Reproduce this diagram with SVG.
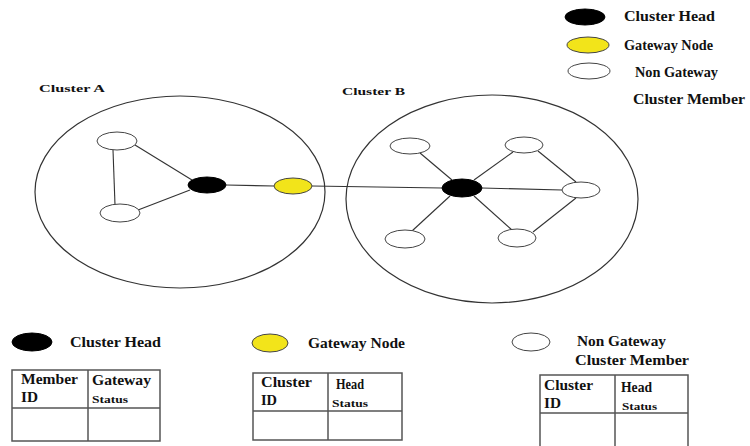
<svg xmlns="http://www.w3.org/2000/svg" width="750" height="446" viewBox="0 0 750 446">
<style>
text{font-family:"Liberation Serif","Times New Roman",serif;font-size:14px;fill:#111;font-weight:bold}
.sm{font-size:11px}
.cl{fill:none;stroke:#333;stroke-width:1.2}
.ln{stroke:#333;stroke-width:1.1;fill:none}
.head{fill:#000;stroke:#000;stroke-width:1}
.gw{fill:#f2e41a;stroke:#444;stroke-width:1}
.mem{fill:#fff;stroke:#444;stroke-width:1}
.tb{fill:none;stroke:#555;stroke-width:1.5}
</style>
<rect width="750" height="446" fill="#fff"/>
<g id="legend-top">
<ellipse class="head" cx="585" cy="17" rx="20" ry="8"/>
<text x="624" y="21" textLength="91" lengthAdjust="spacingAndGlyphs">Cluster Head</text>
<ellipse class="gw" cx="588" cy="45" rx="21" ry="8"/>
<text x="624" y="50" textLength="89" lengthAdjust="spacingAndGlyphs">Gateway Node</text>
<ellipse class="mem" cx="589" cy="71" rx="21" ry="8"/>
<text x="635" y="77" textLength="83" lengthAdjust="spacingAndGlyphs">Non Gateway</text>
<text x="633" y="104" textLength="112" lengthAdjust="spacingAndGlyphs">Cluster Member</text>
</g>
<g id="clusterA">
<text x="39" y="92" class="sm" textLength="66" lengthAdjust="spacingAndGlyphs">Cluster A</text>
<ellipse class="cl" cx="180" cy="192" rx="145" ry="96"/>
</g>
<g id="clusterB">
<text x="342" y="95" class="sm" textLength="63" lengthAdjust="spacingAndGlyphs">Cluster B</text>
<ellipse class="cl" cx="492" cy="199" rx="146" ry="104"/>
</g>
<g id="connectors">
<line class="ln" x1="135" y1="145" x2="192" y2="180"/>
<line class="ln" x1="113" y1="150" x2="115" y2="205"/>
<line class="ln" x1="138" y1="210" x2="190" y2="190"/>
<line class="ln" x1="226" y1="185" x2="274" y2="186"/>
<line class="ln" x1="312" y1="186" x2="442" y2="188"/>
<line class="ln" x1="420" y1="153" x2="452" y2="180"/>
<line class="ln" x1="513" y1="152" x2="474" y2="180"/>
<line class="ln" x1="482" y1="188" x2="562" y2="190"/>
<line class="ln" x1="450" y1="196" x2="412" y2="231"/>
<line class="ln" x1="474" y1="196" x2="512" y2="230"/>
<line class="ln" x1="538" y1="151" x2="576" y2="182"/>
<line class="ln" x1="533" y1="232" x2="576" y2="198"/>
</g>
<g id="A-member-top"><ellipse class="mem" cx="117" cy="141" rx="20" ry="9"/></g>
<g id="A-member-bottom"><ellipse class="mem" cx="120" cy="213" rx="20" ry="9"/></g>
<g id="A-head"><ellipse class="head" cx="207" cy="185" rx="19" ry="8"/></g>
<g id="gateway"><ellipse class="gw" cx="293" cy="186" rx="19" ry="8"/></g>
<g id="B-head"><ellipse class="head" cx="462" cy="188" rx="20" ry="9"/></g>
<g id="B-member-tl"><ellipse class="mem" cx="410" cy="146" rx="20" ry="8"/></g>
<g id="B-member-tr"><ellipse class="mem" cx="524" cy="145" rx="19" ry="8"/></g>
<g id="B-member-r"><ellipse class="mem" cx="581" cy="190" rx="19" ry="8"/></g>
<g id="B-member-bl"><ellipse class="mem" cx="405" cy="239" rx="20" ry="9"/></g>
<g id="B-member-br"><ellipse class="mem" cx="517" cy="238" rx="19" ry="9"/></g>
<g id="legend-head">
<ellipse class="head" cx="32" cy="342" rx="20" ry="9"/>
<text x="70" y="347" textLength="91" lengthAdjust="spacingAndGlyphs">Cluster Head</text>
<rect class="tb" x="12" y="370" width="148" height="71"/>
<line class="tb" x1="88" y1="370" x2="88" y2="441"/>
<line class="tb" x1="12" y1="408" x2="160" y2="408"/>
<text x="21" y="384" textLength="57" lengthAdjust="spacingAndGlyphs">Member</text>
<text x="21" y="402" textLength="17" lengthAdjust="spacingAndGlyphs">ID</text>
<text x="92" y="385" textLength="59" lengthAdjust="spacingAndGlyphs">Gateway</text>
<text x="92" y="403" class="sm" textLength="36" lengthAdjust="spacingAndGlyphs">Status</text>
</g>
<g id="legend-gateway">
<ellipse class="gw" cx="270" cy="343" rx="18" ry="9"/>
<text x="308" y="348" textLength="97" lengthAdjust="spacingAndGlyphs">Gateway Node</text>
<rect class="tb" x="253" y="373" width="149" height="67"/>
<line class="tb" x1="328" y1="373" x2="328" y2="440"/>
<line class="tb" x1="253" y1="411" x2="402" y2="411"/>
<text x="261" y="387" textLength="51" lengthAdjust="spacingAndGlyphs">Cluster</text>
<text x="261" y="405" textLength="16" lengthAdjust="spacingAndGlyphs">ID</text>
<text x="336" y="389" textLength="28" lengthAdjust="spacingAndGlyphs">Head</text>
<text x="332" y="407" class="sm" textLength="36" lengthAdjust="spacingAndGlyphs">Status</text>
</g>
<g id="legend-member">
<ellipse class="mem" cx="531" cy="342" rx="19" ry="9"/>
<text x="577" y="346" textLength="89" lengthAdjust="spacingAndGlyphs">Non Gateway</text>
<text x="575" y="365" textLength="114" lengthAdjust="spacingAndGlyphs">Cluster Member</text>
<rect class="tb" x="540" y="375" width="148" height="75"/>
<line class="tb" x1="615" y1="375" x2="615" y2="446"/>
<line class="tb" x1="540" y1="413" x2="688" y2="413"/>
<text x="544" y="390" textLength="49" lengthAdjust="spacingAndGlyphs">Cluster</text>
<text x="544" y="408" textLength="17" lengthAdjust="spacingAndGlyphs">ID</text>
<text x="621" y="392" textLength="31" lengthAdjust="spacingAndGlyphs">Head</text>
<text x="622" y="410" class="sm" textLength="35" lengthAdjust="spacingAndGlyphs">Status</text>
</g>
</svg>
